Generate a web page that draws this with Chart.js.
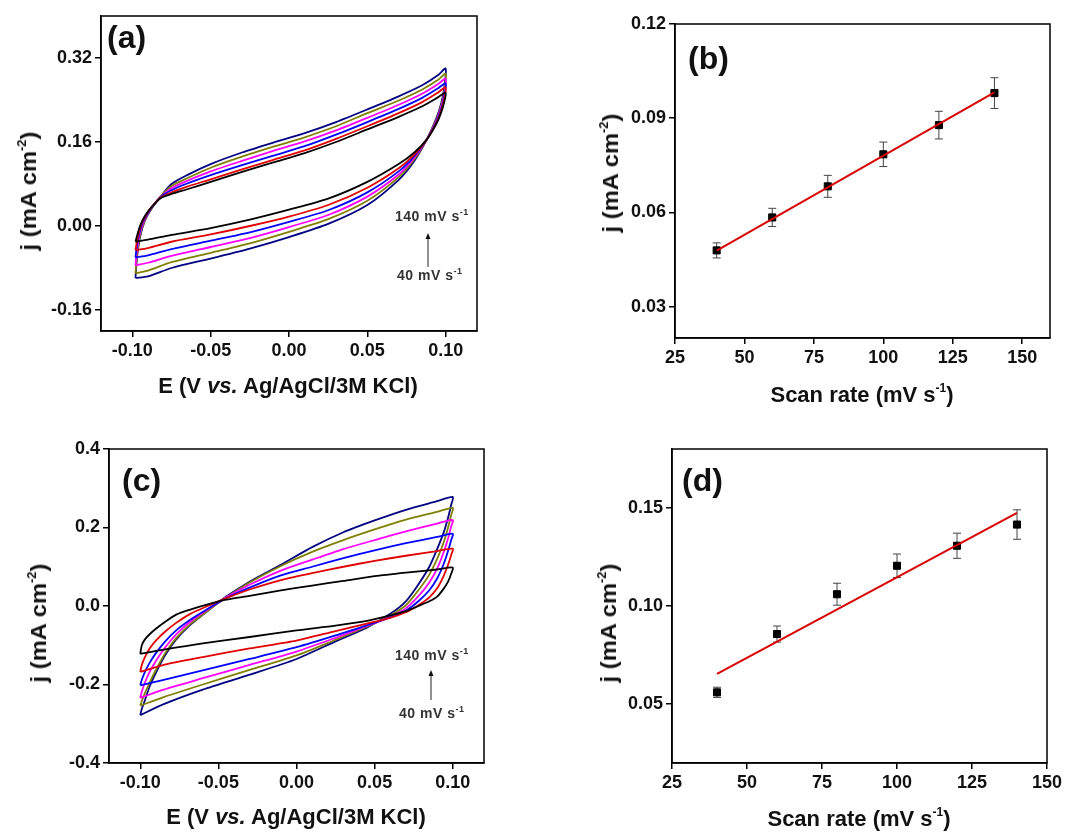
<!DOCTYPE html>
<html>
<head>
<meta charset="utf-8">
<script src="https://cdn.jsdelivr.net/npm/chart.js@4.4.1/dist/chart.umd.min.js"></script>
<style>
body { margin: 0; background: #fff; }
#fig { position: relative; width: 1081px; height: 832px; overflow: hidden;
       font-family: "Liberation Sans", Arial, sans-serif; font-weight: bold; color: #111; }
#fig canvas { position: absolute; }
.lbl { position: absolute; white-space: nowrap; transform: translate(0, -50%); }
.ttl { position: absolute; white-space: nowrap; font-size: 22px; transform: translate(-50%, -50%); }
.yttl { transform: translate(-50%, -50%) rotate(-90deg) scaleX(1.08); }
.sup { font-size: 12px; position: relative; top: -10px; }
.pn { font-size: 32px; }
.note { font-size: 14px; color: #333; letter-spacing: 0.5px; }
.note .sup { font-size: 9px; top: -6px; }
</style>
</head>
<body>
<div id="fig">
  <canvas id="cA" width="540" height="415" style="left:0;top:0"></canvas>
  <canvas id="cB" width="541" height="415" style="left:540px;top:0"></canvas>
  <canvas id="cC" width="540" height="417" style="left:0;top:415px"></canvas>
  <canvas id="cD" width="541" height="417" style="left:540px;top:415px"></canvas>

  <div class="lbl pn" style="left:107px;top:37px">(a)</div>
  <div class="lbl pn" style="left:688px;top:58px">(b)</div>
  <div class="lbl pn" style="left:122px;top:480px">(c)</div>
  <div class="lbl pn" style="left:682px;top:480px">(d)</div>

  <div class="ttl" style="left:288px;top:386px">E (V <i>vs.</i> Ag/AgCl/3M KCl)</div>
  <div class="ttl" style="left:862px;top:395px">Scan rate (mV s<span class="sup">-1</span>)</div>
  <div class="ttl" style="left:296px;top:817px">E (V <i>vs.</i> Ag/AgCl/3M KCl)</div>
  <div class="ttl" style="left:859px;top:819px">Scan rate (mV s<span class="sup">-1</span>)</div>

  <div class="ttl yttl" style="left:29px;top:191px">j (mA cm<span class="sup">-2</span>)</div>
  <div class="ttl yttl" style="left:611px;top:173px">j (mA cm<span class="sup">-2</span>)</div>
  <div class="ttl yttl" style="left:39px;top:623px">j (mA cm<span class="sup">-2</span>)</div>
  <div class="ttl yttl" style="left:609px;top:623px">j (mA cm<span class="sup">-2</span>)</div>

  <div class="lbl note" style="left:395px;top:216px">140 mV s<span class="sup">-1</span></div>
  <div class="lbl note" style="left:397px;top:275px">40 mV s<span class="sup">-1</span></div>
  <div class="lbl note" style="left:395px;top:655px">140 mV s<span class="sup">-1</span></div>
  <div class="lbl note" style="left:399px;top:713px">40 mV s<span class="sup">-1</span></div>
</div>

<script>
// scan rates (mV/s), same order for every series below
const scanRates = [40, 60, 80, 100, 120, 140];
const lineColors = ['#000000', '#e00000', '#0000ff', '#ff00ff', '#808000', '#000080'];

// (a) CV loops: anodic branch, then cathodic branch
const eUpA = [-0.098, -0.097, -0.095, -0.092, -0.088, -0.082, -0.075, -0.065, -0.050, -0.030, -0.010, 0.010, 0.030, 0.050, 0.070, 0.085, 0.095, 0.100];
const jUpA = [
  [-0.030, -0.019, 0.001, 0.019, 0.035, 0.053, 0.061, 0.070, 0.084, 0.103, 0.121, 0.139, 0.160, 0.184, 0.208, 0.228, 0.245, 0.254],
  [-0.046, -0.028, -0.003, 0.017, 0.035, 0.054, 0.064, 0.075, 0.089, 0.108, 0.126, 0.144, 0.166, 0.190, 0.215, 0.236, 0.254, 0.264],
  [-0.060, -0.036, -0.007, 0.015, 0.034, 0.055, 0.068, 0.081, 0.097, 0.116, 0.134, 0.152, 0.174, 0.198, 0.223, 0.244, 0.262, 0.272],
  [-0.075, -0.045, -0.012, 0.013, 0.034, 0.055, 0.072, 0.086, 0.104, 0.124, 0.143, 0.161, 0.182, 0.206, 0.231, 0.252, 0.270, 0.281],
  [-0.090, -0.055, -0.017, 0.011, 0.033, 0.056, 0.076, 0.091, 0.111, 0.132, 0.151, 0.169, 0.190, 0.215, 0.239, 0.260, 0.278, 0.290],
  [-0.099, -0.060, -0.020, 0.010, 0.032, 0.056, 0.080, 0.097, 0.118, 0.140, 0.159, 0.177, 0.198, 0.222, 0.247, 0.268, 0.287, 0.300]
];
const eDownA = [0.100, 0.099, 0.097, 0.094, 0.088, 0.080, 0.070, 0.050, 0.025, 0.000, -0.025, -0.050, -0.075, -0.090, -0.098];
const jDownA = [
  [0.254, 0.235, 0.215, 0.194, 0.165, 0.140, 0.118, 0.084, 0.052, 0.031, 0.012, -0.004, -0.017, -0.026, -0.030],
  [0.264, 0.240, 0.218, 0.196, 0.165, 0.136, 0.110, 0.073, 0.040, 0.018, 0.000, -0.016, -0.030, -0.042, -0.046],
  [0.272, 0.245, 0.222, 0.198, 0.165, 0.133, 0.104, 0.064, 0.030, 0.008, -0.012, -0.028, -0.044, -0.056, -0.060],
  [0.281, 0.250, 0.225, 0.200, 0.165, 0.130, 0.098, 0.056, 0.021, -0.002, -0.023, -0.040, -0.057, -0.070, -0.075],
  [0.290, 0.255, 0.228, 0.202, 0.165, 0.127, 0.093, 0.048, 0.013, -0.011, -0.033, -0.051, -0.069, -0.085, -0.090],
  [0.300, 0.262, 0.232, 0.205, 0.165, 0.124, 0.088, 0.040, 0.004, -0.021, -0.043, -0.062, -0.080, -0.096, -0.099]
];

// (c) CV loops
const eUpC = [-0.100, -0.099, -0.097, -0.094, -0.090, -0.084, -0.077, -0.068, -0.058, -0.045, -0.030, -0.010, 0.010, 0.030, 0.050, 0.070, 0.090, 0.100];
const jUpC = [
  [-0.122, -0.100, -0.085, -0.072, -0.058, -0.040, -0.022, -0.009, 0.003, 0.016, 0.026, 0.040, 0.052, 0.064, 0.076, 0.085, 0.093, 0.098],
  [-0.168, -0.150, -0.130, -0.108, -0.088, -0.065, -0.043, -0.020, -0.002, 0.020, 0.042, 0.066, 0.084, 0.100, 0.115, 0.128, 0.140, 0.146],
  [-0.202, -0.188, -0.168, -0.145, -0.120, -0.090, -0.062, -0.035, -0.010, 0.020, 0.047, 0.078, 0.100, 0.122, 0.142, 0.160, 0.176, 0.184],
  [-0.234, -0.218, -0.195, -0.168, -0.140, -0.105, -0.072, -0.040, -0.012, 0.022, 0.054, 0.090, 0.118, 0.145, 0.168, 0.190, 0.210, 0.219],
  [-0.254, -0.242, -0.222, -0.195, -0.163, -0.120, -0.082, -0.046, -0.016, 0.022, 0.060, 0.102, 0.138, 0.168, 0.195, 0.220, 0.240, 0.250],
  [-0.278, -0.262, -0.240, -0.205, -0.170, -0.125, -0.085, -0.048, -0.016, 0.024, 0.062, 0.105, 0.150, 0.188, 0.218, 0.245, 0.267, 0.278]
];
const eDownC = [0.100, 0.099, 0.097, 0.094, 0.090, 0.085, 0.078, 0.070, 0.060, 0.045, 0.025, 0.000, -0.030, -0.060, -0.085, -0.100];
const jDownC = [
  [0.098, 0.082, 0.062, 0.043, 0.024, 0.012, 0.000, -0.013, -0.024, -0.038, -0.050, -0.062, -0.079, -0.095, -0.111, -0.122],
  [0.146, 0.130, 0.105, 0.075, 0.045, 0.022, 0.002, -0.016, -0.030, -0.045, -0.064, -0.088, -0.108, -0.130, -0.150, -0.168],
  [0.184, 0.168, 0.140, 0.105, 0.070, 0.040, 0.012, -0.012, -0.029, -0.049, -0.075, -0.105, -0.135, -0.164, -0.188, -0.202],
  [0.219, 0.203, 0.172, 0.135, 0.095, 0.060, 0.025, -0.006, -0.027, -0.051, -0.081, -0.116, -0.150, -0.184, -0.213, -0.234],
  [0.250, 0.232, 0.200, 0.160, 0.120, 0.080, 0.040, 0.002, -0.024, -0.053, -0.086, -0.126, -0.163, -0.200, -0.232, -0.254],
  [0.278, 0.258, 0.225, 0.185, 0.145, 0.100, 0.055, 0.012, -0.020, -0.055, -0.090, -0.135, -0.175, -0.213, -0.250, -0.278]
];

// (b) and (d) current vs scan rate, with error and linear fit end values
const jB = [0.0479, 0.0584, 0.0683, 0.0785, 0.0878, 0.0980];
const errB = [0.0024, 0.0029, 0.0035, 0.0039, 0.0044, 0.0049];
const fitB = [0.0478, 0.0982];
const jD = [0.0560, 0.0857, 0.1060, 0.1205, 0.1307, 0.1415];
const errD = [0.0026, 0.0041, 0.0056, 0.0060, 0.0064, 0.0075];
const fitD = [0.0654, 0.1474];

// tick labels
const eTicks = [-0.10, -0.05, 0.00, 0.05, 0.10];
const jTicksA = [-0.16, 0.00, 0.16, 0.32];
const jTicksC = [-0.4, -0.2, 0.0, 0.2, 0.4];
const rateTicks = [25, 50, 75, 100, 125, 150];
const jTicksB = [0.03, 0.06, 0.09, 0.12];
const jTicksD = [0.05, 0.10, 0.15];

Chart.defaults.font.family = '"Liberation Sans", Arial, sans-serif';
Chart.defaults.font.weight = 'bold';
Chart.defaults.color = '#111';

// box around plot + optional scan-direction arrow
const framePlugin = {
  id: 'frame',
  afterDraw(chart, args, opts) {
    const ctx = chart.ctx, a = chart.chartArea;
    ctx.save();
    ctx.strokeStyle = '#000';
    ctx.lineWidth = 1.5;
    ctx.strokeRect(a.left, a.top, a.right - a.left, a.bottom - a.top);
    if (opts.arrow) {
      const [x, y1, y2] = opts.arrow;
      ctx.strokeStyle = '#222';
      ctx.lineWidth = 1;
      ctx.beginPath();
      ctx.moveTo(x, y1);
      ctx.lineTo(x, y2 + 4);
      ctx.stroke();
      ctx.fillStyle = '#111';
      ctx.beginPath();
      ctx.moveTo(x, y2);
      ctx.lineTo(x - 2.5, y2 + 6);
      ctx.lineTo(x + 2.5, y2 + 6);
      ctx.closePath();
      ctx.fill();
    }
    ctx.restore();
  }
};

const errPlugin = {
  id: 'errbars',
  beforeDatasetsDraw(chart, args, opts) {
    if (!opts.err) return;
    const ctx = chart.ctx, ys = chart.scales.y;
    const ds = chart.data.datasets[1];
    const meta = chart.getDatasetMeta(1);
    ctx.save();
    ctx.strokeStyle = '#444';
    ctx.lineWidth = 1;
    meta.data.forEach((pt, i) => {
      const v = ds.data[i].y, e = opts.err[i];
      const t = ys.getPixelForValue(v + e), b = ys.getPixelForValue(v - e);
      ctx.beginPath();
      ctx.moveTo(pt.x, t); ctx.lineTo(pt.x, b);
      ctx.moveTo(pt.x - 4, t); ctx.lineTo(pt.x + 4, t);
      ctx.moveTo(pt.x - 4, b); ctx.lineTo(pt.x + 4, b);
      ctx.stroke();
    });
    ctx.restore();
  }
};

Chart.register(framePlugin, errPlugin);

function axis(min, max, ticks, fmt, fit) {
  return {
    type: 'linear',
    min: min,
    max: max,
    afterBuildTicks: s => { s.ticks = ticks.map(v => ({ value: v })); },
    afterFit: fit,
    grid: { display: true, drawOnChartArea: false, drawTicks: true, tickLength: 6, color: '#000', lineWidth: 1.5 },
    border: { display: true, color: '#000', width: 1.5 },
    ticks: { autoSkip: false, maxRotation: 0, padding: 3, color: '#111',
             font: { size: 18, weight: 'bold' }, callback: v => fmt(v) }
  };
}

function cvLoops(eUp, jUp, eDown, jDown) {
  return scanRates.map((r, i) => ({
    label: r + ' mV/s',
    data: eUp.map((e, k) => ({ x: e, y: jUp[i][k] }))
      .concat(eDown.slice(1).map((e, k) => ({ x: e, y: jDown[i][k + 1] }))),
    showLine: true,
    borderColor: lineColors[i],
    borderWidth: 1.8,
    pointRadius: 0,
    tension: 0.25
  }));
}

function rateSets(vals, fit) {
  return [
    { data: [{ x: scanRates[0], y: fit[0] }, { x: scanRates[5], y: fit[1] }],
      showLine: true, borderColor: '#d80000', borderWidth: 2, pointRadius: 0, order: 0 },
    { data: scanRates.map((r, i) => ({ x: r, y: vals[i] })),
      pointStyle: 'rect', pointRadius: 5, backgroundColor: '#000', borderColor: '#000', order: 1 }
  ];
}

function makeChart(id, datasets, xAx, yAx, pad, extra) {
  return new Chart(document.getElementById(id), {
    type: 'scatter',
    data: { datasets: datasets },
    options: {
      responsive: false,
      animation: false,
      devicePixelRatio: 1,
      layout: { padding: pad },
      scales: { x: xAx, y: yAx },
      plugins: Object.assign({ legend: { display: false }, tooltip: { enabled: false } }, extra)
    }
  });
}

const f2 = v => v.toFixed(2);
const f1 = v => v.toFixed(1);
const f0 = v => String(Math.round(v));

makeChart('cA', cvLoops(eUpA, jUpA, eDownA, jDownA),
  axis(-0.12, 0.12, eTicks, f2, s => { s.height = 84; }),
  axis(-0.2, 0.4, jTicksA, f2, s => { s.width = 101; }),
  { top: 16, right: 63, bottom: 0, left: 0 },
  { frame: { arrow: [428, 267, 233] } });

makeChart('cB', rateSets(jB, fitB),
  axis(25, 160, rateTicks, f0, s => { s.height = 77; }),
  axis(0.02, 0.12, jTicksB, f2, s => { s.width = 135; }),
  { top: 24, right: 31, bottom: 0, left: 0 },
  { errbars: { err: errB } });

makeChart('cC', cvLoops(eUpC, jUpC, eDownC, jDownC),
  axis(-0.12, 0.12, eTicks, f2, s => { s.height = 69; }),
  axis(-0.4, 0.4, jTicksC, f1, s => { s.width = 109; }),
  { top: 34, right: 56, bottom: 0, left: 0 },
  { frame: { arrow: [431, 285, 255] } });

makeChart('cD', rateSets(jD, fitD),
  axis(25, 150, rateTicks, f0, s => { s.height = 69; }),
  axis(0.02, 0.18, jTicksD, f2, s => { s.width = 132; }),
  { top: 34, right: 34, bottom: 0, left: 0 },
  { errbars: { err: errD } });
</script>
</body>
</html>
